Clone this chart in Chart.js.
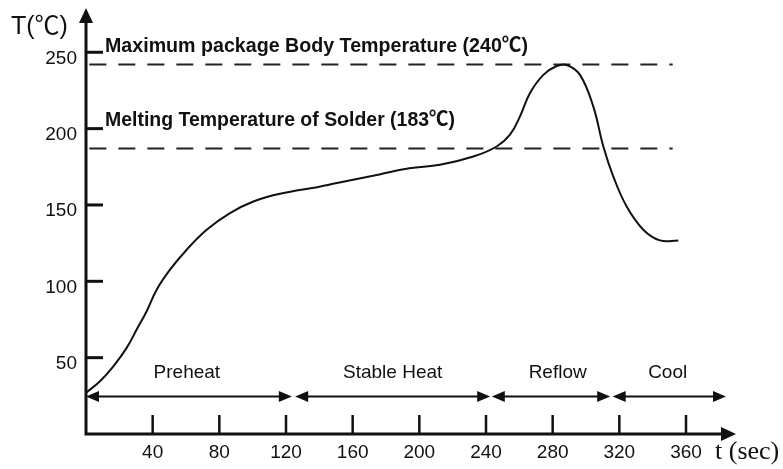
<!DOCTYPE html>
<html>
<head>
<meta charset="utf-8">
<script src="https://cdn.jsdelivr.net/npm/chart.js@4/dist/chart.umd.min.js"></script>
<style>
  html, body { margin: 0; padding: 0; background: #fff; }
  #wrap { width: 783px; height: 469px; }
</style>
</head>
<body>
<div id="wrap"><canvas id="c" width="783" height="469"></canvas></div>
<script>
// ---- data ----
const curveT    = [0, 8.4, 16.4, 24.4, 30.4, 36.4, 42.4, 50.4, 60.4, 72.4, 86.4, 100.4, 116.4, 140, 158, 176, 194, 212.4, 232.4, 246.4, 254.4, 260.4, 266.4, 274.4, 282.4, 288.4, 296.4, 304.4, 310.4, 316.4, 324.4, 334.4, 344.4, 355.4];
const curveTemp = [27, 34.5, 44.3, 56.4, 68.4, 80.4, 94.5, 107.6, 120.7, 133.8, 144.7, 152.3, 157.3, 162, 166, 170, 174, 176.3, 181.7, 188.3, 196, 208, 223.3, 235.2, 241, 241.7, 235.2, 214.4, 188.3, 168.6, 149, 133.8, 126.8, 126.8];

const xTicks = [40, 80, 120, 160, 200, 240, 280, 320, 360];
const yTicks = [50, 100, 150, 200, 250];

const limitNames  = ["Maximum package Body Temperature (240\u2103)", "Melting Temperature of Solder (183\u2103)"];
const limitValues = [242, 187];         // drawn position of dashed lines
const limitLabelY = [250, 201.5];       // label baseline (temperature units)
const limitStartT = [2, 2];
const limitEndT   = [352, 352];

const phaseNames  = ["Preheat", "Stable Heat", "Reflow", "Cool"];
const phaseStart  = [0, 125.5, 243.5, 316];
const phaseEnd    = [123.5, 242.5, 314.5, 384];
const phaseLabelT = [60.5, 184, 283, 349];
const phaseArrowY = 24.5;   // temperature level of phase arrows
const phaseLabelY = 40;

const xTitle = "t (sec)";
const yTitle = "T(\u2103)";

const SANS = '"Liberation Sans", Arial, "Noto Sans CJK SC", sans-serif';
const SERIF = '"Liberation Serif", "Times New Roman", serif';

function arrowHead(ctx, tipX, tipY, dir, len, half) {
  ctx.beginPath();
  if (dir === 'right') { ctx.moveTo(tipX, tipY); ctx.lineTo(tipX - len, tipY - half); ctx.lineTo(tipX - len, tipY + half); }
  else if (dir === 'left') { ctx.moveTo(tipX, tipY); ctx.lineTo(tipX + len, tipY - half); ctx.lineTo(tipX + len, tipY + half); }
  else { ctx.moveTo(tipX, tipY); ctx.lineTo(tipX - half, tipY + len); ctx.lineTo(tipX + half, tipY + len); }
  ctx.closePath();
  ctx.fill();
}

const decor = {
  id: 'decor',
  afterDraw(chart) {
    const ctx = chart.ctx;
    const xs = chart.scales.x, ys = chart.scales.y;
    const px = v => xs.getPixelForValue(v);
    const py = v => ys.getPixelForValue(v);
    const ink = '#111';
    ctx.save();
    ctx.strokeStyle = ink; ctx.fillStyle = ink;

    // axes
    const x0 = px(0), y0 = py(0);
    ctx.lineWidth = 3;
    ctx.beginPath();
    ctx.moveTo(x0, y0 + 1.5); ctx.lineTo(x0, ys.top + 12);
    ctx.moveTo(x0 - 1.5, y0); ctx.lineTo(xs.right - 12, y0);
    ctx.stroke();
    arrowHead(ctx, x0, ys.top, 'up', 15, 7);
    arrowHead(ctx, xs.right, y0, 'right', 15, 7);

    // y ticks (inside)
    ctx.lineWidth = 3;
    ctx.font = '19px ' + SANS;
    ctx.textAlign = 'right'; ctx.textBaseline = 'middle';
    yTicks.forEach(v => {
      const y = py(v);
      ctx.beginPath(); ctx.moveTo(x0, y); ctx.lineTo(x0 + 17, y); ctx.stroke();
      ctx.fillText(String(v), x0 - 9, y + 6);
    });
    // x ticks (inside)
    ctx.lineWidth = 2.5;
    ctx.textAlign = 'center';
    xTicks.forEach(v => {
      const x = px(v);
      ctx.beginPath(); ctx.moveTo(x, y0); ctx.lineTo(x, y0 - 19); ctx.stroke();
      ctx.fillText(String(v), x, y0 + 19);
    });

    // axis titles
    ctx.textAlign = 'left';
    ctx.font = '25px ' + SANS;
    ctx.fillText(yTitle, 11, 27, 62);
    ctx.font = '26px ' + SERIF;
    ctx.fillText(xTitle, 715, y0 + 18);

    // limit labels
    ctx.font = 'bold 20px ' + SANS;
    ctx.textBaseline = 'alphabetic';
    const widths = [423, 350];
    limitNames.forEach((n, i) => {
      ctx.fillText(n, 105, py(limitLabelY[i]), widths[i]);
    });

    // phase arrows
    ctx.lineWidth = 2;
    const ay = py(phaseArrowY);
    ctx.textBaseline = 'middle'; ctx.textAlign = 'center';
    ctx.font = '19px ' + SANS;
    phaseNames.forEach((n, i) => {
      const a = px(phaseStart[i]), b = px(phaseEnd[i]);
      ctx.beginPath(); ctx.moveTo(a + 8, ay); ctx.lineTo(b - 8, ay); ctx.stroke();
      arrowHead(ctx, a, ay, 'left', 13, 5.5);
      arrowHead(ctx, b, ay, 'right', 13, 5.5);
      ctx.fillText(n, px(phaseLabelT[i]), py(phaseLabelY));
    });
    ctx.restore();
  }
};

const limitDatasets = limitValues.map((v, i) => ({
  data: [{x: limitStartT[i], y: v}, {x: limitEndT[i], y: v}],
  borderColor: '#222',
  borderWidth: 2,
  borderDash: [17, 12],
  pointRadius: 0,
  fill: false
}));

new Chart(document.getElementById('c'), {
  type: 'line',
  data: {
    datasets: [
      {
        data: curveT.map((t, i) => ({x: t, y: curveTemp[i]})),
        borderColor: '#111',
        borderWidth: 2,
        pointRadius: 0,
        tension: 0.4,
        fill: false
      },
      ...limitDatasets
    ]
  },
  options: {
    responsive: false,
    animation: false,
    layout: { padding: { left: 86, right: 47, top: 8, bottom: 35 } },
    plugins: { legend: { display: false }, tooltip: { enabled: false } },
    scales: {
      x: { type: 'linear', min: 0, max: 390, display: false },
      y: { type: 'linear', min: 0, max: 279, display: false }
    }
  },
  plugins: [decor]
});
</script>
</body>
</html>
